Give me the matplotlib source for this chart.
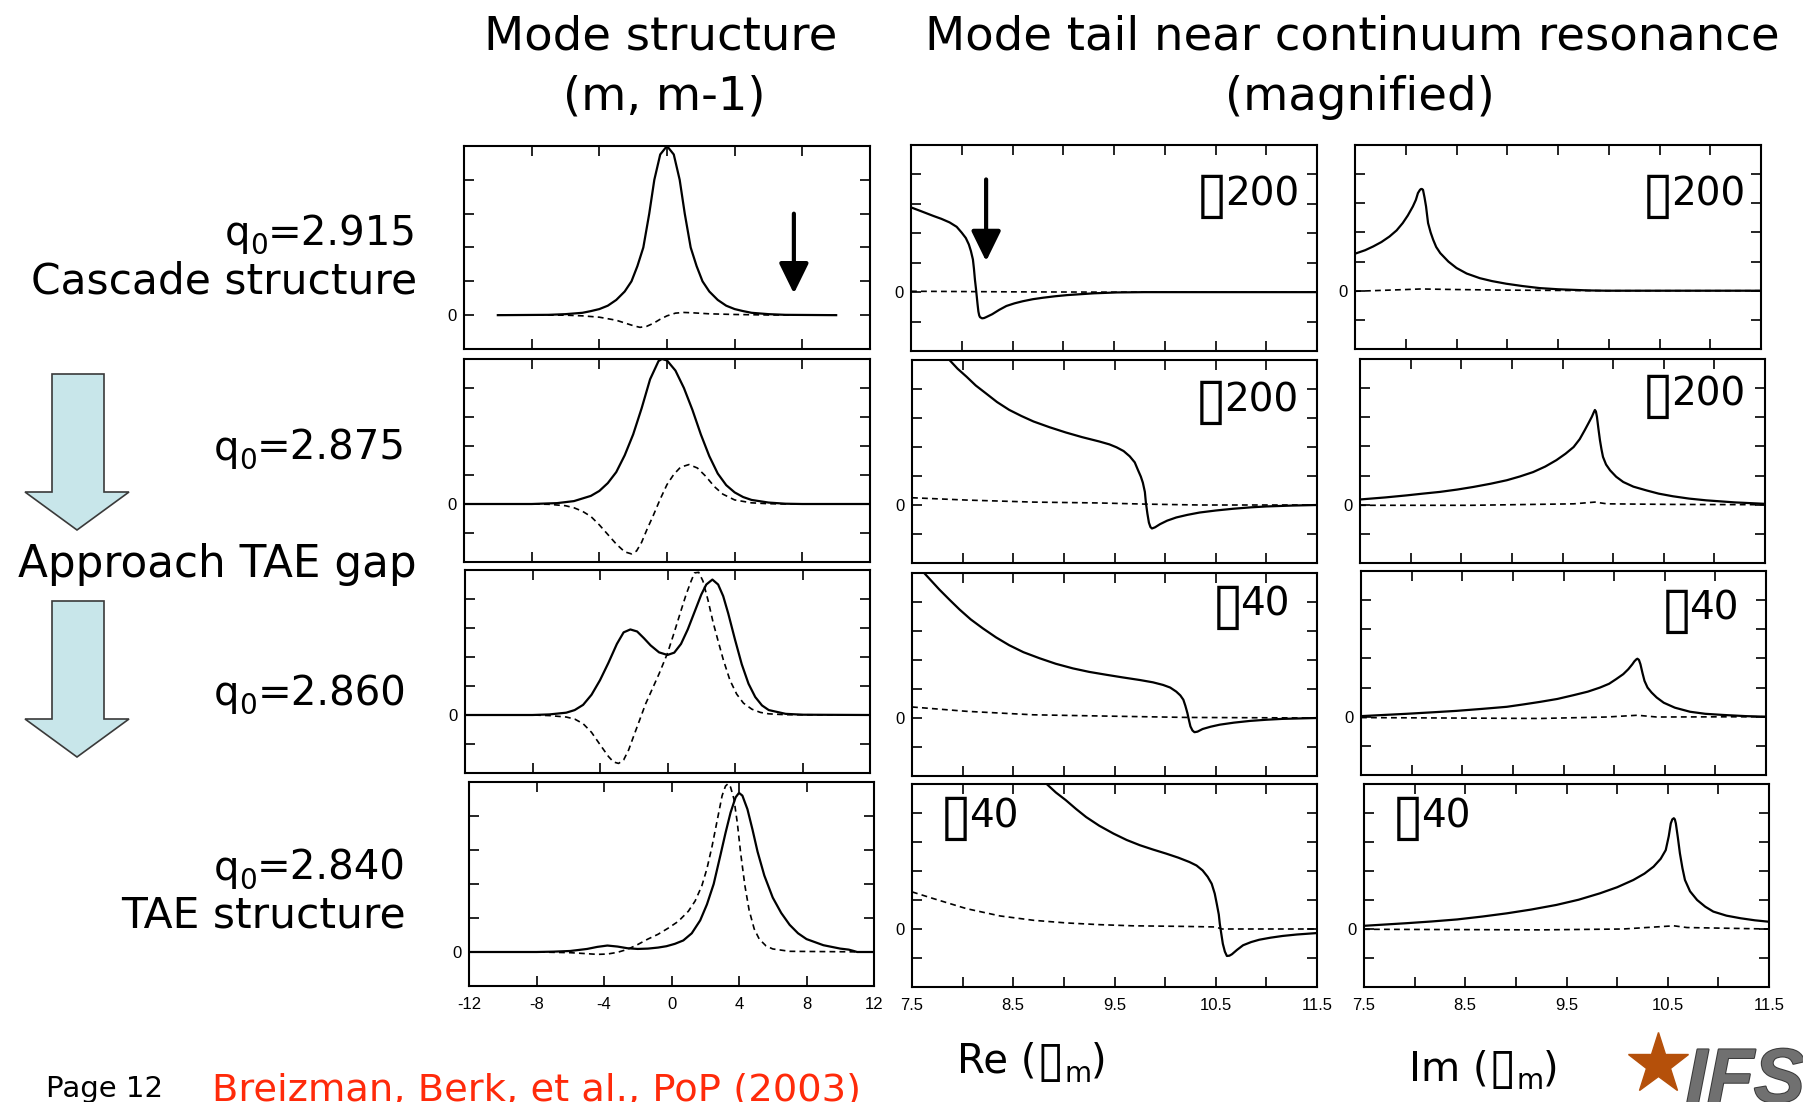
import matplotlib
matplotlib.use("Agg")
import matplotlib.pyplot as plt
from matplotlib.patches import Polygon
from matplotlib.lines import Line2D
import matplotlib.patheffects as pe

W, H = 1803, 1102

# ---------------- column 1: mode structure, m (solid) and m-1 (dashed)
q2915_sol_x = [-10, -7, -6, -5, -4.5, -4, -3.5, -3, -2.5, -2.1, -1.75, -1.4, -1.05, -0.75, -0.4, 0,
               0.4, 0.75, 1.05, 1.4, 1.75, 2.1, 2.5, 3, 3.5, 4, 4.5, 5, 6, 7, 10]
q2915_sol_y = [0, 0.01, 0.03, 0.07, 0.12, 0.18, 0.28, 0.45, 0.7, 1.0, 1.45, 2.0, 3.0, 4.0, 4.75, 5,
               4.75, 4.0, 3.0, 2.0, 1.45, 1.0, 0.7, 0.45, 0.28, 0.18, 0.12, 0.07, 0.03, 0.01, 0]
q2915_dash_x = [-10, -6, -5, -4, -3, -2.5, -2, -1.6, -1.2, -0.8, -0.4, 0, 0.5, 1, 1.5, 2.5, 4, 6, 10]
q2915_dash_y = [0, 0, -0.02, -0.06, -0.15, -0.23, -0.31, -0.36, -0.33, -0.24, -0.12, -0.02, 0.06, 0.08, 0.07, 0.04, 0.02, 0.005, 0]

q2875_sol_x = [-12, -8, -6.5, -5.5, -4.5, -4, -3.5, -3, -2.5, -2, -1.5, -1, -0.5, -0.3, 0, 0.5, 1, 1.5,
               2, 2.5, 3, 3.5, 4, 4.5, 5, 6, 7, 8, 12]
q2875_sol_y = [0, 0, 0.03, 0.1, 0.28, 0.45, 0.72, 1.1, 1.68, 2.4, 3.3, 4.3, 4.93, 5, 4.95, 4.6, 4.0, 3.25,
               2.4, 1.65, 1.05, 0.65, 0.4, 0.24, 0.14, 0.05, 0.01, 0, 0]
q2875_dash_x = [-12, -8, -7, -6, -5.5, -5, -4.5, -4, -3.5, -3, -2.5, -2.1, -1.8, -1.5, -1.2, -0.8, -0.4, 0,
                0.4, 0.8, 1.3, 1.8, 2.3, 2.8, 3.3, 4, 5, 6, 7, 12]
q2875_dash_y = [0, 0, -0.01, -0.06, -0.13, -0.25, -0.43, -0.72, -1.05, -1.38, -1.65, -1.72, -1.62, -1.32,
                -0.9, -0.38, 0.17, 0.67, 1.02, 1.27, 1.36, 1.24, 0.95, 0.6, 0.34, 0.14, 0.04, 0.01, 0, 0]

q2860_sol_x = [-12, -8, -7, -6, -5.5, -5, -4.5, -4, -3.5, -3, -2.6, -2.2, -1.8, -1.4, -1, -0.5, 0, 0.4, 0.8,
               1.2, 1.6, 2, 2.3, 2.66, 3, 3.3, 3.6, 4, 4.4, 4.8, 5.2, 5.6, 6, 7, 8, 12]
q2860_sol_y = [0, 0, 0.02, 0.08, 0.17, 0.35, 0.7, 1.2, 1.8, 2.45, 2.85, 2.95, 2.88, 2.65, 2.4, 2.16, 2.07,
               2.15, 2.45, 2.95, 3.55, 4.15, 4.5, 4.67, 4.5, 4.1, 3.5, 2.6, 1.75, 1.08, 0.62, 0.33, 0.17,
               0.04, 0.01, 0]
q2860_dash_x = [-12, -8, -7, -6, -5.5, -5, -4.5, -4, -3.5, -3.2, -2.9, -2.6, -2.3, -2, -1.7, -1.3, -0.9,
                -0.5, 0, 0.4, 0.8, 1.1, 1.4, 1.6, 1.85, 2.1, 2.4, 2.7, 3, 3.3, 3.7, 4.1, 4.5, 5, 5.5, 6, 7, 12]
q2860_dash_y = [0, 0, -0.02, -0.07, -0.14, -0.3, -0.6, -1.02, -1.43, -1.62, -1.67, -1.55, -1.2, -0.72, -0.25,
                0.38, 0.9, 1.42, 2.13, 2.85, 3.6, 4.15, 4.62, 4.9, 4.92, 4.62, 3.96, 3.2, 2.55, 1.92, 1.2,
                0.72, 0.41, 0.2, 0.09, 0.04, 0.01, 0]

q2840_sol_x = [-12, -8, -7, -6, -5, -4.4, -3.8, -3.2, -2.6, -2, -1.4, -0.8, -0.3, 0.2, 0.7, 1.2, 1.7, 2.1,
               2.5, 2.9, 3.2, 3.5, 3.8, 4.0, 4.2, 4.5, 4.8, 5.1, 5.5, 6, 6.5, 7, 7.5, 8, 9, 10, 10.5, 10.8,
               11, 12]
q2840_sol_y = [0, 0, 0.01, 0.03, 0.09, 0.15, 0.19, 0.16, 0.11, 0.09, 0.1, 0.13, 0.17, 0.24, 0.34, 0.55, 0.93,
               1.4, 2.0, 2.85, 3.5, 4.1, 4.55, 4.68, 4.6, 4.2, 3.6, 2.95, 2.25, 1.6, 1.15, 0.8, 0.55, 0.38,
               0.2, 0.1, 0.07, 0.03, 0, 0]
q2840_dash_x = [-12, -8, -7, -6, -5, -4.4, -3.8, -3.2, -2.6, -2, -1.4, -0.8, -0.2, 0.4, 1, 1.4, 1.8, 2.1,
                2.4, 2.7, 3.0, 3.2, 3.35, 3.5, 3.7, 3.9, 4.1, 4.35, 4.6, 4.9, 5.2, 5.6, 6, 7, 12]
q2840_dash_y = [0, 0, -0.01, -0.02, -0.05, -0.07, -0.06, -0.01, 0.08, 0.22, 0.38, 0.52, 0.7, 0.9, 1.2, 1.5,
                1.95, 2.45, 3.1, 3.85, 4.6, 4.88, 4.95, 4.85, 4.5, 3.8, 2.9, 1.95, 1.23, 0.68, 0.38, 0.18,
                0.09, 0.02, 0]

# ---------------- column 2: Re of the tail (magnified)
re2915_sol_x = [7.5, 7.6, 7.72, 7.8, 7.88, 7.95, 8.0, 8.04, 8.07, 8.09, 8.11, 8.12, 8.13, 8.14, 8.148, 8.156,
                8.164, 8.172, 8.18, 8.2, 8.22, 8.24, 8.27, 8.3, 8.37, 8.44, 8.52, 8.6, 8.7, 8.8, 8.92, 9.04,
                9.17, 9.3, 9.53, 9.8, 10.0, 11.5]
re2915_sol_y = [2.88, 2.75, 2.59, 2.49, 2.37, 2.22, 2.02, 1.84, 1.62, 1.4, 1.11, 0.8, 0.42, 0.12, -0.15, -0.42,
                -0.66, -0.79, -0.85, -0.89, -0.88, -0.85, -0.8, -0.75, -0.6, -0.47, -0.38, -0.31, -0.24,
                -0.19, -0.14, -0.1, -0.07, -0.04, -0.01, 0, 0, 0]
re2915_dash_x = [7.5, 8.0, 8.5, 9.0, 9.5, 10.0, 11.5]
re2915_dash_y = [0.03, 0.02, 0.01, 0.005, 0, 0, 0]

re2875_sol_x = [7.87, 7.95, 8.04, 8.13, 8.23, 8.34, 8.46, 8.58, 8.7, 8.86, 9.02, 9.18, 9.35, 9.45, 9.52, 9.59,
                9.65, 9.7, 9.73, 9.76, 9.78, 9.8, 9.81, 9.825, 9.84, 9.855, 9.87, 9.9, 9.95, 10.02, 10.11,
                10.22, 10.34, 10.5, 10.67, 10.85, 11.0, 11.25, 11.5]
re2875_sol_y = [5, 4.7, 4.42, 4.12, 3.85, 3.55, 3.28, 3.07, 2.88, 2.68, 2.5, 2.34, 2.19, 2.09, 1.99, 1.86,
                1.68, 1.47, 1.22, 0.98, 0.77, 0.45, 0.08, -0.3, -0.61, -0.76, -0.81, -0.77, -0.66, -0.54,
                -0.43, -0.34, -0.26, -0.19, -0.13, -0.08, -0.05, -0.02, 0]
re2875_dash_x = [7.5, 8.04, 8.7, 9.35, 9.81, 10.34, 11.5]
re2875_dash_y = [0.25, 0.17, 0.1, 0.07, 0.03, 0, 0]

re2860_sol_x = [7.62, 7.77, 7.87, 7.97, 8.08, 8.2, 8.33, 8.46, 8.6, 8.76, 8.92, 9.09, 9.25, 9.42, 9.58, 9.75,
                9.88, 9.98, 10.05, 10.11, 10.15, 10.18, 10.2, 10.22, 10.235, 10.25, 10.27, 10.29, 10.32,
                10.37, 10.45, 10.54, 10.68, 10.84, 11.0, 11.16, 11.5]
re2860_sol_y = [5, 4.43, 4.08, 3.74, 3.4, 3.09, 2.78, 2.51, 2.27, 2.06, 1.87, 1.71, 1.59, 1.49, 1.4, 1.31,
                1.23, 1.14, 1.05, 0.91, 0.78, 0.63, 0.42, 0.17, -0.07, -0.29, -0.43, -0.49, -0.47, -0.38,
                -0.3, -0.23, -0.16, -0.1, -0.06, -0.03, 0]
re2860_dash_x = [7.5, 8.04, 8.7, 9.35, 10.21, 11.5]
re2860_dash_y = [0.38, 0.23, 0.11, 0.07, 0.02, 0]

re2840_sol_x = [8.83, 8.92, 9.02, 9.12, 9.22, 9.35, 9.49, 9.62, 9.75, 9.88, 10.01, 10.13, 10.24, 10.31, 10.37,
                10.42, 10.46, 10.49, 10.51, 10.53, 10.54, 10.555, 10.57, 10.59, 10.61, 10.635, 10.66, 10.71,
                10.77, 10.85, 10.93, 11.04, 11.16, 11.3, 11.5]
re2840_sol_y = [5, 4.71, 4.44, 4.14, 3.86, 3.56, 3.29, 3.07, 2.89, 2.74, 2.6, 2.46, 2.31, 2.19, 2.02, 1.8,
                1.56, 1.22, 0.87, 0.5, 0.18, -0.17, -0.51, -0.78, -0.93, -0.92, -0.87, -0.72, -0.56, -0.45,
                -0.37, -0.3, -0.24, -0.19, -0.14]
re2840_dash_x = [7.5, 7.71, 8.04, 8.37, 8.7, 9.02, 9.35, 9.68, 10.18, 10.5, 10.56, 11.5]
re2840_dash_y = [1.28, 1.05, 0.7, 0.45, 0.3, 0.21, 0.15, 0.11, 0.09, 0.07, 0, 0]

# ---------------- column 3: Im of the tail (magnified)
im2915_sol_x = [7.5, 7.6, 7.68, 7.76, 7.84, 7.91, 7.97, 8.02, 8.07, 8.1, 8.12, 8.14, 8.15, 8.16, 8.17, 8.185,
                8.2, 8.21, 8.22, 8.245, 8.27, 8.3, 8.34, 8.42, 8.5, 8.6, 8.73, 8.85, 8.99, 9.15, 9.32, 9.5,
                9.65, 9.8, 9.98, 11.5]
im2915_sol_y = [1.27, 1.39, 1.52, 1.67, 1.86, 2.07, 2.32, 2.58, 2.89, 3.12, 3.35, 3.46, 3.49, 3.49, 3.46, 3.2,
                2.89, 2.6, 2.32, 2.0, 1.75, 1.5, 1.29, 1.0, 0.78, 0.59, 0.43, 0.33, 0.24, 0.16, 0.09, 0.05,
                0.03, 0.01, 0, 0]
im2915_dash_x = [7.5, 8.0, 8.15, 8.5, 9.0, 10.0, 11.5]
im2915_dash_y = [-0.02, 0.04, 0.06, 0.04, 0.02, 0, 0]

im2875_sol_x = [7.5, 7.75, 7.96, 8.12, 8.29, 8.46, 8.62, 8.79, 8.95, 9.08, 9.21, 9.33, 9.44, 9.53, 9.61, 9.67,
                9.72, 9.76, 9.79, 9.81, 9.82, 9.83, 9.84, 9.855, 9.87, 9.885, 9.9, 9.93, 9.97, 10.03, 10.1,
                10.2, 10.33, 10.45, 10.59, 10.75, 10.92, 11.2, 11.5]
im2875_sol_y = [0.18, 0.25, 0.32, 0.38, 0.44, 0.52, 0.61, 0.72, 0.84, 0.97, 1.12, 1.31, 1.53, 1.75, 1.98, 2.25,
                2.56, 2.82, 3.02, 3.18, 3.25, 3.2, 3.02, 2.6, 2.21, 1.9, 1.64, 1.38, 1.18, 0.96, 0.78, 0.62,
                0.49, 0.38, 0.29, 0.21, 0.15, 0.08, 0.03]
im2875_dash_x = [7.5, 8.6, 9.61, 9.82, 9.94, 10.59, 11.5]
im2875_dash_y = [-0.02, -0.02, 0.03, 0.09, 0.03, 0.01, 0]

im2860_sol_x = [7.5, 7.95, 8.2, 8.44, 8.7, 8.94, 9.1, 9.27, 9.44, 9.6, 9.74, 9.86, 9.95, 10.02, 10.09, 10.14,
                10.18, 10.2, 10.22, 10.23, 10.245, 10.26, 10.28, 10.3, 10.33, 10.37, 10.42, 10.49, 10.6,
                10.75, 10.9, 11.08, 11.3, 11.5]
im2860_sol_y = [0.02, 0.1, 0.15, 0.2, 0.27, 0.34, 0.42, 0.51, 0.61, 0.74, 0.86, 1.0, 1.13, 1.29, 1.46, 1.63,
                1.8, 1.9, 1.97, 1.99, 1.95, 1.8, 1.5, 1.23, 1.0, 0.83, 0.66, 0.48, 0.31, 0.17, 0.1, 0.06,
                0.02, 0]
im2860_dash_x = [7.5, 9.27, 9.93, 10.23, 10.42, 11.5]
im2860_dash_y = [-0.03, -0.06, -0.01, 0.05, -0.01, 0]

im2840_sol_x = [7.5, 7.92, 8.17, 8.42, 8.67, 8.91, 9.15, 9.4, 9.62, 9.83, 10.0, 10.16, 10.27, 10.36, 10.43,
                10.48, 10.51, 10.53, 10.545, 10.56, 10.57, 10.58, 10.6, 10.62, 10.645, 10.67, 10.72, 10.79,
                10.87, 10.95, 11.08, 11.22, 11.36, 11.5]
im2840_sol_y = [0.11, 0.2, 0.26, 0.33, 0.43, 0.54, 0.67, 0.83, 1.01, 1.23, 1.44, 1.69, 1.91, 2.15, 2.42, 2.72,
                3.2, 3.64, 3.78, 3.82, 3.78, 3.64, 3.15, 2.61, 2.1, 1.69, 1.3, 1.0, 0.77, 0.6, 0.46, 0.37,
                0.3, 0.25]
im2840_dash_x = [7.5, 9.24, 10.06, 10.56, 10.69, 11.5]
im2840_dash_y = [-0.01, -0.03, 0, 0.11, 0.05, 0]

q_labels = ["2.915", "2.875", "2.860", "2.840"]
scale_labels = ["200", "200", "40", "40"]

mode_x = [-12, -8, -4, 0, 4, 8, 12]
tail_x = [7.5, 8, 8.5, 9, 9.5, 10, 10.5, 11, 11.5]
tail_lbl = ["7.5", "", "8.5", "", "9.5", "", "10.5", "", "11.5"]

curves = [
    [(q2915_sol_x, q2915_sol_y, q2915_dash_x, q2915_dash_y),
     (re2915_sol_x, re2915_sol_y, re2915_dash_x, re2915_dash_y),
     (im2915_sol_x, im2915_sol_y, im2915_dash_x, im2915_dash_y)],
    [(q2875_sol_x, q2875_sol_y, q2875_dash_x, q2875_dash_y),
     (re2875_sol_x, re2875_sol_y, re2875_dash_x, re2875_dash_y),
     (im2875_sol_x, im2875_sol_y, im2875_dash_x, im2875_dash_y)],
    [(q2860_sol_x, q2860_sol_y, q2860_dash_x, q2860_dash_y),
     (re2860_sol_x, re2860_sol_y, re2860_dash_x, re2860_dash_y),
     (im2860_sol_x, im2860_sol_y, im2860_dash_x, im2860_dash_y)],
    [(q2840_sol_x, q2840_sol_y, q2840_dash_x, q2840_dash_y),
     (re2840_sol_x, re2840_sol_y, re2840_dash_x, re2840_dash_y),
     (im2840_sol_x, im2840_sol_y, im2840_dash_x, im2840_dash_y)],
]

# panel boxes in image pixels (left, top, right, bottom) - pasted panels are slightly misaligned
boxes = [
    [(464, 146, 870, 349), (911, 145, 1317, 351), (1355, 145, 1761, 349)],
    [(464, 359, 870, 562), (912, 360, 1317, 563), (1360, 359, 1765, 563)],
    [(465, 570, 870, 773), (912, 573, 1317, 776), (1361, 571, 1766, 775)],
    [(469, 782, 874, 986), (912, 784, 1317, 987), (1364, 784, 1769, 987)],
]

plt.rcParams["font.family"] = ["DejaVu Sans"]
TICKFONT = ["Liberation Sans", "DejaVu Sans"]

fig = plt.figure(figsize=(W / 100, H / 100), dpi=100)


def px(x, y):
    return x / W, 1 - y / H


axes = []
for r in range(4):
    row = []
    for c in range(3):
        l, t, rr, b = boxes[r][c]
        ax = fig.add_axes([l / W, 1 - b / H, (rr - l) / W, (b - t) / H])
        sx, sy, dx, dy = curves[r][c]
        ax.plot(sx, sy, color="black", lw=1.6)
        ax.plot(dx, dy, color="black", lw=1.2, linestyle=(0, (3.5, 2.5)))
        if c == 0:
            ymin = -1 if r in (0, 3) else -2
            ax.set_xlim(-12, 12)
            ax.set_xticks(mode_x)
            ax.set_xticklabels([str(v) for v in mode_x] if r == 3 else [])
        else:
            ymin = -2
            ax.set_xlim(7.5, 11.5)
            ax.set_xticks(tail_x)
            ax.set_xticklabels(tail_lbl if r == 3 else [])
        ax.set_ylim(ymin, 5)
        yt = list(range(ymin, 6))
        ax.set_yticks(yt)
        ax.set_yticklabels(["0" if v == 0 else "" for v in yt])
        ax.tick_params(direction="in", top=True, right=True, length=7, width=1.2,
                       labelsize=12, pad=5)
        ax.tick_params(axis="x", pad=8)
        for lab in ax.get_xticklabels() + ax.get_yticklabels():
            lab.set_family(TICKFONT)
        for s in ax.spines.values():
            s.set_linewidth(1.5)
        row.append(ax)
    axes.append(row)

# arrows marking the continuum resonance
axes[0][0].annotate("", xy=(7.5, 0.64), xytext=(7.5, 3.0),
                    arrowprops=dict(arrowstyle="-|>,head_length=1.0,head_width=0.49",
                                    mutation_scale=18.5, lw=3, color="black",
                                    shrinkA=0, shrinkB=0))
axes[0][1].annotate("", xy=(8.24, 1.05), xytext=(8.24, 3.83),
                    arrowprops=dict(arrowstyle="-|>,head_length=1.0,head_width=0.49",
                                    mutation_scale=18.5, lw=3, color="black",
                                    shrinkA=0, shrinkB=0))

renderer = fig.canvas.get_renderer()


def pieces(x, y, parts, ha="right", color="black"):
    # parts: (text, size, drop in px, extra advance in px)
    arts = []
    total = 0
    for s, size, drop, kern in parts:
        t = fig.text(0, 0, s, fontsize=size, va="baseline", ha="left", color=color)
        w = t.get_window_extent(renderer).width + kern
        arts.append((t, drop, w))
        total += w
    x0 = x - total if ha == "right" else (x - total / 2 if ha == "center" else x)
    for t, drop, w in arts:
        t.set_position(px(x0, y + drop))
        x0 += w


# magnification factors
scale_pos = [
    [(1299, 205, "right"), (1745, 205, "right")],
    [(1298, 411, "right"), (1745, 405, "right")],
    [(1290, 616, "right"), (1739, 620, "right")],
    [(940, 827, "left"), (1392, 827, "left")],
]
for r in range(4):
    for k in range(2):
        x, y, ha = scale_pos[r][k]
        pieces(x, y, [("\u25af", 42, 7, -3), (scale_labels[r], 28, 0, 0)], ha=ha)

# titles
fig.text(*px(661, 50), "Mode structure", fontsize=33.5, ha="center", va="baseline")
fig.text(*px(664, 110), "(m, m-1)", fontsize=33.5, ha="center", va="baseline")
fig.text(*px(1352, 50), "Mode tail near continuum resonance", fontsize=33.5,
         ha="center", va="baseline")
fig.text(*px(1360, 110), "(magnified)", fontsize=33.5, ha="center", va="baseline")

q_pos = [(417, 245), (406, 460), (406, 705), (406, 880)]
for lbl, (x, y) in zip(q_labels, q_pos):
    pieces(x, y, [("q", 29, 0, 0), ("0", 20, 9, 0), ("=" + lbl, 29, 0, 0)])

fig.text(*px(417, 293), "Cascade structure", fontsize=30.5, ha="right", va="baseline")
fig.text(*px(417, 577), "Approach TAE gap", fontsize=31.5, ha="right", va="baseline")
fig.text(*px(406, 928), "TAE structure", fontsize=30.5, ha="right", va="baseline")

# light blue block arrows
for top, neck, tip in [(374, 492, 530), (601, 719, 757)]:
    pts = [(52, top), (104, top), (104, neck), (129, neck), (77, tip),
           (25, neck), (52, neck)]
    fig.patches.append(Polygon([px(a, b) for a, b in pts], closed=True,
                               facecolor="#c8e6ea", edgecolor="#3a3a3a", lw=1.2,
                               transform=fig.transFigure, figure=fig))

# axis names under the tail columns
pieces(1032, 1073, [("Re (", 29, 0, 0), ("\u25af", 36, 3, 0), ("m", 20, 9, 0), (")", 29, 0, 0)],
       ha="center")
pieces(1484, 1080, [("Im (", 29, 0, 0), ("\u25af", 36, 3, 0), ("m", 20, 9, 0), (")", 29, 0, 0)],
       ha="center")

# footer
fig.text(*px(46, 1097), "Page 12", fontsize=21, va="baseline")
fig.text(*px(212, 1101), "Breizman, Berk, et al., PoP (2003)", fontsize=27.7,
         color="#ff2a0a", va="baseline")
fig.add_artist(Line2D([px(1658, 0)[0]], [px(0, 1064)[1]], marker="*", markersize=46,
                      color="#b5500a", transform=fig.transFigure))
fig.text(*px(1686, 1102), "IFS", fontsize=55, fontweight="bold", fontstyle="italic",
         family=["Liberation Sans"], color="#707070", va="baseline",
         path_effects=[pe.withStroke(linewidth=1.5, foreground="#3a3a3a")])

fig.savefig("out.png", dpi=100)
